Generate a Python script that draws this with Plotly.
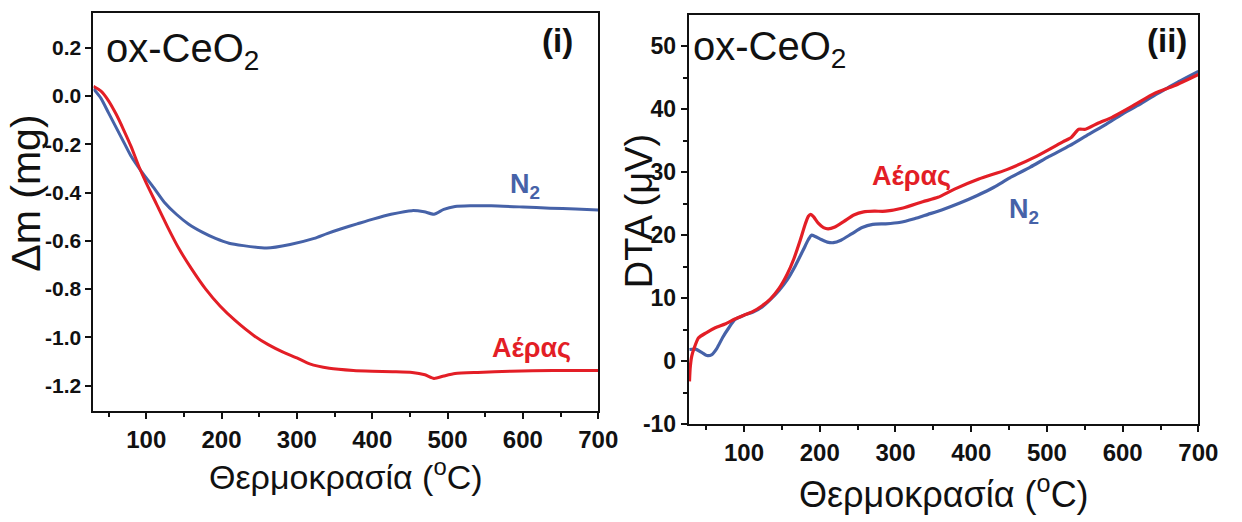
import plotly.graph_objects as go

# ---------------- data ----------------
# (i) thermogravimetric mass change, Δm (mg)
tg_n2_t = [30, 40, 50, 60, 70, 80, 93, 110, 124, 140, 156, 175, 192, 210, 229, 260, 291,
           323, 340, 359, 380, 401, 425, 453, 469, 482, 495, 510, 530, 558, 600, 636, 670, 700]
tg_n2_dm = [0.03, -0.01, -0.07, -0.13, -0.19, -0.25, -0.31, -0.38, -0.44, -0.49, -0.53, -0.565,
            -0.59, -0.61, -0.62, -0.63, -0.615, -0.59, -0.57, -0.55, -0.53, -0.51, -0.49, -0.475,
            -0.48, -0.49, -0.47, -0.458, -0.455, -0.455, -0.46, -0.465, -0.468, -0.472]

tg_air_t = [30, 40, 50, 60, 70, 80, 90, 100, 114, 128, 143, 160, 179, 198, 218, 244, 262, 281,
            300, 317, 343, 375, 400, 427, 453, 470, 482, 495, 510, 540, 584, 640, 700]
tg_air_dm = [0.04, 0.02, -0.02, -0.075, -0.14, -0.21, -0.29, -0.36, -0.45, -0.54, -0.63, -0.715,
             -0.8, -0.87, -0.93, -0.995, -1.03, -1.06, -1.085, -1.11, -1.128, -1.137, -1.14,
             -1.142, -1.145, -1.155, -1.17, -1.16, -1.15, -1.145, -1.14, -1.137, -1.137]

# (ii) differential thermal analysis signal, DTA (μV)
dta_air_t = [28, 29, 31, 34, 40, 50, 62, 75, 88, 100, 112, 124, 135, 146, 157, 166, 174, 181,
             185, 188, 192, 198, 205, 211, 220, 232, 245, 258, 272, 287, 310, 336, 356, 378,
             410, 447, 486, 521, 532, 542, 551, 568, 586, 616, 642, 668, 700]
dta_air_v = [-3.2, -1.0, 0.8, 2.0, 3.7, 4.5, 5.3, 5.9, 6.7, 7.3, 7.9, 8.8, 9.9, 11.5, 13.8, 16.3,
             19.1, 21.8, 23.0, 23.3, 22.9, 21.9, 21.2, 21.0, 21.3, 22.2, 23.2, 23.7, 23.8, 23.8,
             24.3, 25.3, 26.0, 27.3, 28.9, 30.4, 32.5, 34.8, 35.5, 36.8, 36.8, 37.8, 38.7, 40.7,
             42.5, 43.7, 45.5]

dta_n2_t = [28, 36, 44, 51, 57, 64, 72, 80, 88, 100, 112, 124, 135, 146, 157, 168, 178, 185,
            189, 194, 202, 210, 218, 228, 242, 256, 270, 287, 305, 325, 343, 361, 385, 408,
            430, 451, 478, 503, 530, 555, 578, 598, 620, 642, 660, 676, 700]
dta_n2_v = [1.85, 1.9, 1.4, 0.9, 1.0, 2.0, 3.8, 5.3, 6.6, 7.3, 7.8, 8.6, 9.8, 11.2, 12.9, 15.2,
            17.6, 19.3, 20.0, 19.8, 19.3, 18.9, 18.8, 19.2, 20.2, 21.2, 21.7, 21.8, 22.0, 22.6,
            23.3, 24.0, 25.1, 26.3, 27.6, 29.1, 30.8, 32.5, 34.2, 36.0, 37.6, 39.1, 40.6, 42.2,
            43.4, 44.5, 46.0]

# tick labels
temp_ticks = [100, 200, 300, 400, 500, 600, 700]
temp_ticktext = ["100", "200", "300", "400", "500", "600", "700"]
temp_minor = [50, 150, 250, 350, 450, 550, 650]
tg_ticks = [0.2, 0.0, -0.2, -0.4, -0.6, -0.8, -1.0, -1.2]
tg_ticktext = ["0.2", "0.0", "-0.2", "-0.4", "-0.6", "-0.8", "-1.0", "-1.2"]
dta_ticks = [-10, 0, 10, 20, 30, 40, 50]
dta_ticktext = ["-10", "0", "10", "20", "30", "40", "50"]
dta_minor = [-5, 5, 15, 25, 35, 45]

# ---------------- style ----------------
W, H = 1242, 522
RED = "#E31E26"
BLUE = "#4662A8"
INK = "#111111"
FONT = "Liberation Sans, Arial, sans-serif"


def px(x):
    return x / W


def py(y):
    return 1 - y / H


fig = go.Figure()

line_kw = dict(mode="lines", line_shape="spline", hoverinfo="skip", showlegend=False)
fig.add_trace(go.Scatter(x=tg_n2_t, y=tg_n2_dm, line=dict(color=BLUE, width=3, smoothing=0.6),
                         xaxis="x", yaxis="y", **line_kw))
fig.add_trace(go.Scatter(x=tg_air_t, y=tg_air_dm, line=dict(color=RED, width=3, smoothing=0.6),
                         xaxis="x", yaxis="y", **line_kw))
fig.add_trace(go.Scatter(x=dta_n2_t, y=dta_n2_v, line=dict(color=BLUE, width=3.2, smoothing=0.6),
                         xaxis="x2", yaxis="y2", **line_kw))
fig.add_trace(go.Scatter(x=dta_air_t, y=dta_air_v, line=dict(color=RED, width=3.2, smoothing=0.6),
                         xaxis="x2", yaxis="y2", **line_kw))

axis_common = dict(
    showline=True, linecolor=INK, linewidth=2, mirror=True,
    showgrid=False, zeroline=False,
    ticks="outside", ticklen=6, tickwidth=1.5, tickcolor=INK,
    tickmode="array",
)
minor_common = dict(ticks="outside", ticklen=4, tickwidth=1.5, tickcolor=INK)

x_tick_font = dict(family=FONT, size=24, color=INK, weight="bold")
y_tick_font = dict(family=FONT, size=21, color=INK, weight="bold")

fig.update_layout(
    width=W, height=H,
    margin=dict(l=0, r=0, t=0, b=0),
    paper_bgcolor="white", plot_bgcolor="white",
    xaxis=dict(domain=[px(95), px(608)], range=[30, 700], anchor="y",
               tickvals=temp_ticks, ticktext=temp_ticktext, tickfont=x_tick_font,
               minor=dict(tickvals=temp_minor, **minor_common),
               **axis_common),
    yaxis=dict(domain=[py(422), py(13)], range=[-1.307, 0.345], anchor="x",
               tickvals=tg_ticks, ticktext=tg_ticktext, tickfont=y_tick_font,
               **axis_common),
    xaxis2=dict(domain=[px(700), px(1218)], range=[27, 700], anchor="y2",
                tickvals=temp_ticks, ticktext=temp_ticktext, tickfont=x_tick_font,
                minor=dict(tickvals=temp_minor, **minor_common),
                **axis_common),
    yaxis2=dict(domain=[py(435), py(15)], range=[-10, 55], anchor="x2",
                tickvals=dta_ticks, ticktext=dta_ticktext,
                tickfont=dict(family=FONT, size=23, color=INK, weight="bold"),
                minor=dict(tickvals=dta_minor, **minor_common),
                **axis_common),
)


def label(x, y, text, size, color=INK, bold=False, angle=0, xanchor="center"):
    fig.add_annotation(
        x=px(x), y=py(y), xref="paper", yref="paper", text=text, showarrow=False,
        xanchor=xanchor, yanchor="middle", textangle=angle,
        font=dict(family=FONT, size=size, color=color, weight="bold" if bold else "normal"),
    )


# panel (i)
label(106, 52, "ox-CeO<sub>2</sub>", 40, xanchor="left")
label(567, 42, "(i)", 33, bold=True)
label(534, 191, "N<sub>2</sub>", 27, color=BLUE, bold=True)
label(540, 357, "Αέρας", 27, color=RED, bold=True)
label(26, 198, "Δm (mg)", 41, angle=-90)
label(352, 487, "Θερμοκρασία (<sup>o</sup>C)", 34)

# panel (ii)
label(702, 50, "ox-CeO<sub>2</sub>", 40, xanchor="left")
label(1186, 42, "(ii)", 33, bold=True)
label(926, 180, "Αέρας", 27, color=RED, bold=True)
label(1041, 216, "N<sub>2</sub>", 27, color=BLUE, bold=True)
label(649, 217, "DTA (μV)", 38, angle=-90)
label(959, 505, "Θερμοκρασία (<sup>o</sup>C)", 36)

fig.write_html("out.html")
